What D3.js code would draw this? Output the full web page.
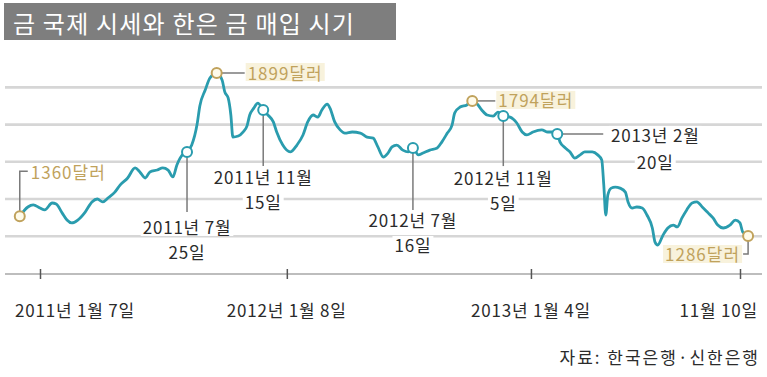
<!DOCTYPE html>
<html>
<head>
<meta charset="utf-8">
<script src="https://cdn.jsdelivr.net/npm/d3@7"></script>
<style>
  body { margin: 0; background: #fff; }
  svg { display: block; font-family: "Noto Sans CJK KR", "Noto Sans", sans-serif; }
</style>
</head>
<body>
<div id="chart"></div>
<script>
// Gold international price vs. Bank of Korea gold purchase timing

const titleText = '금 국제 시세와 한은 금 매입 시기';
const sourceText = '자료: 한국은행·신한은행';

// gold price (USD/oz)
const goldDates = [
    '2010-12-08', '2010-12-20', '2010-12-28', '2011-01-07', '2011-01-14', '2011-01-25', '2011-01-31', '2011-02-09',
    '2011-02-16', '2011-02-23', '2011-03-04', '2011-03-15', '2011-03-25', '2011-04-02', '2011-04-10', '2011-04-18',
    '2011-04-28', '2011-05-06', '2011-05-17', '2011-05-28', '2011-06-04', '2011-06-12', '2011-06-19', '2011-06-30',
    '2011-07-08', '2011-07-16', '2011-07-23', '2011-07-29', '2011-08-06', '2011-08-13', '2011-08-20', '2011-08-28',
    '2011-09-01', '2011-09-09', '2011-09-16', '2011-09-26', '2011-10-04', '2011-10-08', '2011-10-13', '2011-10-17',
    '2011-10-20', '2011-10-28', '2011-11-04', '2011-11-10', '2011-11-14', '2011-11-20', '2011-11-26', '2011-12-04',
    '2011-12-11', '2011-12-19', '2011-12-24', '2012-01-02', '2012-01-13', '2012-01-23', '2012-02-01', '2012-02-08',
    '2012-02-16', '2012-02-23', '2012-02-29', '2012-03-08', '2012-03-12', '2012-03-19', '2012-03-27', '2012-04-03',
    '2012-04-14', '2012-04-26', '2012-05-06', '2012-05-15', '2012-05-22', '2012-05-30', '2012-06-06', '2012-06-12',
    '2012-06-19', '2012-06-28', '2012-07-06', '2012-07-13', '2012-07-21', '2012-07-28', '2012-08-07', '2012-08-18',
    '2012-08-25', '2012-09-02', '2012-09-09', '2012-09-13', '2012-09-21', '2012-10-01', '2012-10-09', '2012-10-16',
    '2012-10-23', '2012-10-31', '2012-11-09', '2012-11-16', '2012-11-24', '2012-12-04', '2012-12-14', '2012-12-22',
    '2012-12-29', '2013-01-07', '2013-01-20', '2013-01-29', '2013-02-06', '2013-02-12', '2013-02-16', '2013-02-24',
    '2013-03-03', '2013-03-10', '2013-03-18', '2013-03-25', '2013-04-05', '2013-04-13', '2013-04-19', '2013-04-22',
    '2013-04-25', '2013-04-28', '2013-05-03', '2013-05-09', '2013-05-16', '2013-05-24', '2013-05-28', '2013-06-03',
    '2013-06-10', '2013-06-18', '2013-06-25', '2013-07-03', '2013-07-07', '2013-07-11', '2013-07-19', '2013-07-26',
    '2013-08-03', '2013-08-09', '2013-08-16', '2013-08-23', '2013-08-31', '2013-09-07', '2013-09-15', '2013-09-24',
    '2013-10-01', '2013-10-08', '2013-10-16', '2013-10-26', '2013-11-03', '2013-11-10', '2013-11-14', '2013-11-22'
];
const goldPrices = [
    1360, 1395, 1403, 1391, 1384, 1410, 1406, 1372,
    1346, 1335, 1346, 1376, 1414, 1425, 1414, 1429,
    1451, 1478, 1504, 1542, 1527, 1504, 1527, 1534,
    1542, 1534, 1508, 1553, 1591, 1602, 1628, 1707,
    1775, 1835, 1880, 1899, 1873, 1828, 1805, 1741,
    1658, 1662, 1677, 1700, 1741, 1767, 1786, 1760,
    1741, 1715, 1677, 1628, 1602, 1628, 1666, 1715,
    1741, 1733, 1760, 1782, 1767, 1715, 1685, 1673,
    1677, 1673, 1658, 1654, 1621, 1583, 1598, 1621,
    1628, 1609, 1602, 1617, 1591, 1598, 1609, 1617,
    1640, 1673, 1703, 1749, 1771, 1779, 1794, 1783,
    1760, 1741, 1737, 1752, 1737, 1733, 1711, 1677,
    1666, 1677, 1685, 1677, 1677, 1670, 1640, 1617,
    1602, 1579, 1591, 1602, 1602, 1591, 1572, 1478,
    1365, 1440, 1466, 1470, 1466, 1451, 1414, 1391,
    1395, 1391, 1365, 1316, 1263, 1252, 1290, 1316,
    1327, 1320, 1354, 1384, 1410, 1414, 1395, 1372,
    1354, 1327, 1316, 1327, 1346, 1335, 1301, 1286
];

const gridValues = [1285, 1425, 1565, 1705, 1845];

const tickDates = ['2011-01-07', '2012-01-08', '2013-01-04', '2013-11-10'];
const tickLabels = ['2011년 1월 7일', '2012년 1월 8일', '2013년 1월 4일', '11월 10일'];

// BOK purchase points on the line
const eventDates = ['2011-08-13', '2011-12-04', '2012-07-13', '2012-11-24', '2013-02-12'];
const eventMonths = ['2011년 7월', '2011년 11월', '2012년 7월', '2012년 11월', '2013년 2월'];
const eventDays = ['25일', '15일', '16일', '5일', '20일'];

// price call-outs
const markDates = ['2010-12-08', '2011-09-26', '2012-10-09', '2013-11-22'];
const markLabels = ['1360달러', '1899달러', '1794달러', '1286달러'];

const COLORS = {
    line: '#2a9cae',
    grid: '#d6d6d6',
    axis: '#bdbdbd',
    gold: '#c0a25c',
    goldFill: '#fffbea',
    goldBg: '#f8f2dc',
    text: '#2b2b2b',
    leader: '#7a7a7a'
};

const width = 767, height = 377;
const parse = d3.timeParse('%Y-%m-%d');

const series = goldDates.map((d, i) => ({ date: parse(d), price: goldPrices[i] }));
const byDate = new Map(goldDates.map((d, i) => [d, series[i]]));

const x = d3.scaleTime()
    .domain([parse('2011-01-07'), parse('2013-11-10')])
    .range([40, 740]);

const y = d3.scaleLinear()
    .domain([1143, 1899])
    .range([274, 73]);

const svg = d3.select('#chart').append('svg')
    .attr('width', width)
    .attr('height', height);

// title bar
svg.append('rect')
    .attr('x', 4).attr('y', 3)
    .attr('width', 392).attr('height', 37)
    .attr('fill', '#7e7e7e');
svg.append('text')
    .attr('x', 13).attr('y', 22)
    .attr('dominant-baseline', 'central')
    .attr('font-size', 24)
    .attr('letter-spacing', 1.2)
    .attr('fill', '#fff')
    .text(titleText);

// gridlines
svg.append('g').selectAll('line')
    .data(gridValues)
    .join('line')
    .attr('x1', 5).attr('x2', 762)
    .attr('y1', d => y(d)).attr('y2', d => y(d))
    .attr('stroke', COLORS.grid)
    .attr('stroke-width', 2.6);

// x axis
const xAxis = d3.axisBottom(x)
    .tickValues(tickDates.map(parse))
    .tickFormat('')
    .tickSizeInner(0)
    .tickSizeOuter(0);

const axisG = svg.append('g')
    .attr('transform', `translate(0,${y(1143)})`)
    .call(xAxis);
axisG.select('.domain').remove();
axisG.insert('line', ':first-child')
    .attr('x1', 5).attr('x2', 762)
    .attr('stroke', COLORS.axis)
    .attr('stroke-width', 2);
axisG.selectAll('.tick line')
    .attr('y1', -5).attr('y2', 5)
    .attr('stroke', '#555')
    .attr('stroke-width', 1.5);

svg.append('g').selectAll('text')
    .data(tickDates)
    .join('text')
    .attr('x', (d, i) => i === 0 ? 15 : i === tickDates.length - 1 ? 758 : x(parse(d)))
    .attr('y', 309)
    .attr('text-anchor', (d, i) => i === 0 ? 'start' : i === tickDates.length - 1 ? 'end' : 'middle')
    .attr('dominant-baseline', 'central')
    .attr('font-size', 17)
    .attr('letter-spacing', 0.8)
    .attr('fill', COLORS.text)
    .text((d, i) => tickLabels[i]);

// helper: text with a tight background box
function boxedText(parent, tx, ty, str, opts) {
    const g = parent.append('g');
    const rect = g.append('rect');
    const t = g.append('text')
        .attr('x', tx).attr('y', ty)
        .attr('text-anchor', opts.anchor || 'middle')
        .attr('dominant-baseline', 'central')
        .attr('font-size', 17)
        .attr('letter-spacing', opts.spacing == null ? 0.8 : opts.spacing)
        .attr('fill', opts.color)
        .text(str);
    const bb = t.node().getBBox();
    rect.attr('x', bb.x - 2).attr('y', ty - 9)
        .attr('width', bb.width + 4).attr('height', 18)
        .attr('fill', opts.bg || 'none');
    return g;
}

// event call-out layout: stem length, month / day label offsets
const eventLayout = [
    { dir: 'down', stem: 60, t1: 75, t2: 100 },
    { dir: 'down', stem: 56, t1: 67, t2: 92 },
    { dir: 'down', stem: 62, t1: 72, t2: 97 },
    { dir: 'down', stem: 50, t1: 61, t2: 86 },
    { dir: 'right', stem: 46, tx: 98, t1: 1, t2: 28 }
];

const leaders = svg.append('g');
const labels = svg.append('g');

eventDates.forEach((d, i) => {
    const p = byDate.get(d);
    const cx = x(p.date), cy = y(p.price);
    const L = eventLayout[i];
    if (L.dir === 'down') {
        leaders.append('line')
            .attr('x1', cx).attr('x2', cx)
            .attr('y1', cy).attr('y2', cy + L.stem)
            .attr('stroke', COLORS.leader).attr('stroke-width', 1.5);
        boxedText(labels, cx, cy + L.t1, eventMonths[i], { color: COLORS.text, bg: '#fff' });
        boxedText(labels, cx, cy + L.t2, eventDays[i], { color: COLORS.text, bg: '#fff' });
    } else {
        leaders.append('line')
            .attr('x1', cx).attr('x2', cx + L.stem)
            .attr('y1', cy).attr('y2', cy)
            .attr('stroke', COLORS.leader).attr('stroke-width', 1.5);
        boxedText(labels, cx + L.tx, cy + L.t1, eventMonths[i], { color: COLORS.text, bg: '#fff' });
        boxedText(labels, cx + L.tx, cy + L.t2, eventDays[i], { color: COLORS.text, bg: '#fff' });
    }
});

// price call-outs leaders + labels
markDates.forEach((d, i) => {
    const p = byDate.get(d);
    const cx = x(p.date), cy = y(p.price);
    if (i === 0) {
        leaders.append('path')
            .attr('d', `M${cx},${cy} V${cy - 45} H${cx + 8}`)
            .attr('fill', 'none')
            .attr('stroke', COLORS.leader).attr('stroke-width', 1.5);
        boxedText(labels, cx + 11, cy - 45, markLabels[i], { color: COLORS.gold, anchor: 'start', spacing: 1 });
    } else if (i === markDates.length - 1) {
        leaders.append('path')
            .attr('d', `M${cx},${cy} V${cy + 18} H${cx - 5}`)
            .attr('fill', 'none')
            .attr('stroke', COLORS.leader).attr('stroke-width', 1.5);
        boxedText(labels, cx - 8, cy + 18, markLabels[i], { color: COLORS.gold, anchor: 'end', bg: COLORS.goldBg, spacing: 1 });
    } else {
        const len = i === 1 ? 28 : 23;
        leaders.append('line')
            .attr('x1', cx).attr('x2', cx + len)
            .attr('y1', cy).attr('y2', cy)
            .attr('stroke', COLORS.leader).attr('stroke-width', 1.5);
        boxedText(labels, cx + len + 3, cy - 1, markLabels[i], { color: COLORS.gold, anchor: 'start', bg: COLORS.goldBg, spacing: 1 });
    }
});

// price line
const line = d3.line()
    .x(d => x(d.date))
    .y(d => y(d.price))
    .curve(d3.curveMonotoneX);

svg.append('path')
    .datum(series)
    .attr('fill', 'none')
    .attr('stroke', COLORS.line)
    .attr('stroke-width', 2.8)
    .attr('stroke-linejoin', 'round')
    .attr('d', line);

// markers
svg.append('g').selectAll('circle')
    .data(eventDates.map(d => byDate.get(d)))
    .join('circle')
    .attr('cx', d => x(d.date))
    .attr('cy', d => y(d.price))
    .attr('r', 5)
    .attr('fill', '#fff')
    .attr('stroke', COLORS.line)
    .attr('stroke-width', 2);

svg.append('g').selectAll('circle')
    .data(markDates.map(d => byDate.get(d)))
    .join('circle')
    .attr('cx', d => x(d.date))
    .attr('cy', d => y(d.price))
    .attr('r', 5)
    .attr('fill', COLORS.goldFill)
    .attr('stroke', COLORS.gold)
    .attr('stroke-width', 2);

// source
svg.append('text')
    .attr('x', 760).attr('y', 356)
    .attr('text-anchor', 'end')
    .attr('dominant-baseline', 'central')
    .attr('font-size', 17)
    .attr('letter-spacing', 2)
    .attr('fill', COLORS.text)
    .text(sourceText);
</script>
</body>
</html>
